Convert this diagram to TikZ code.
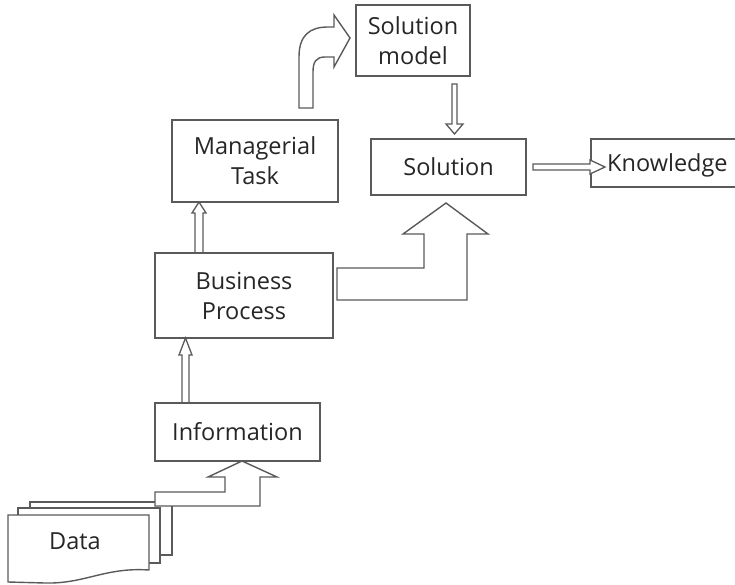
\documentclass[tikz,border=0pt]{standalone}
\usepackage{fontspec}
\setmainfont{Open Sans}
\definecolor{ln}{HTML}{5A5A5A}
\definecolor{tx}{HTML}{262626}
\tikzset{
  box/.style={draw=ln, line width=1.4pt, fill=white, inner sep=0pt, align=center,
    text=tx, font=\fontsize{23.5}{30}\selectfont},
  blk/.style={draw=ln, line width=1.4pt, fill=white, line join=miter},
  lbl/.style={text=tx, font=\fontsize{23.5}{30}\selectfont, inner sep=0pt},
}
\begin{document}
\begin{tikzpicture}[x=1pt,y=-1pt]
\useasboundingbox (0,0) rectangle (735,585);
% boxes
\node[box, minimum width=114pt, minimum height=71pt] (sm) at (413,40.5) {Solution\\model};
\node[box, minimum width=166pt, minimum height=82pt] (mt) at (255,161) {Managerial\\Task\hspace{18pt}};
\node[box, minimum width=155pt, minimum height=56pt] (sol) at (448.5,167) {Solution};
\node[box, minimum width=178pt, minimum height=85pt] (bp) at (244,295.5) {Business\\Process};
\node[box, minimum width=165pt, minimum height=58pt] (info) at (237.5,432) {Information};
% knowledge open box
\draw[ln, line width=1.4pt] (735,139) -- (591,139) -- (591,187) -- (735,187);
\node[lbl, anchor=west] (kn) at (607,165) {Knowledge};
% data stack
\draw[blk] (30,502) rectangle (172,555);
\draw[blk] (18,508) rectangle (160,563);
\draw[blk] (8,515) -- (149,515) -- (149,570) .. controls (105,567) and (85,584) .. (45,583) -- (8,582) -- cycle;
\node[lbl] (data) at (75,541) {Data};
% data -> information
\draw[blk] (155,492) -- (225,492) -- (225,477) -- (208,477) -- (242,461) -- (277,477) -- (260,477) -- (260,506) -- (155,506) -- cycle;
% information -> business process
\draw[ln, line width=1.3pt, line join=miter] (182,403) -- (182,355) -- (179,355) -- (185.5,338) -- (192,355) -- (189,355) -- (189,403);
% business process -> managerial task
\draw[ln, line width=1.3pt, line join=miter] (195,253) -- (195,213) -- (192,213) -- (199,202) -- (206,213) -- (203,213) -- (203,253);
% business process -> solution
\draw[blk] (337,268) -- (424,268) -- (424,234) -- (403,234) -- (446,203) -- (488,234) -- (467,234) -- (467,300) -- (337,300) -- cycle;
% managerial task -> solution model (curved)
\draw[blk] (299,108) -- (299,57) .. controls (299,35) and (310,27) .. (328,27) -- (334,27) -- (334,15) -- (350,38) -- (334,67) -- (334,57) -- (325,57) .. controls (316,57) and (313,62) .. (313,72) -- (313,108) -- cycle;
% solution model -> solution
\draw[ln, line width=1.3pt, line join=miter, fill=white] (452,84) -- (452,124) -- (446,124) -- (454.5,134) -- (463,124) -- (457,124) -- (457,84) -- cycle;
% solution -> knowledge
\draw[ln, line width=1.3pt, line join=miter, fill=white] (533,164) -- (590,164) -- (590,160) -- (605,167) -- (590,174) -- (590,170) -- (533,170) -- cycle;
\end{tikzpicture}
\end{document}
